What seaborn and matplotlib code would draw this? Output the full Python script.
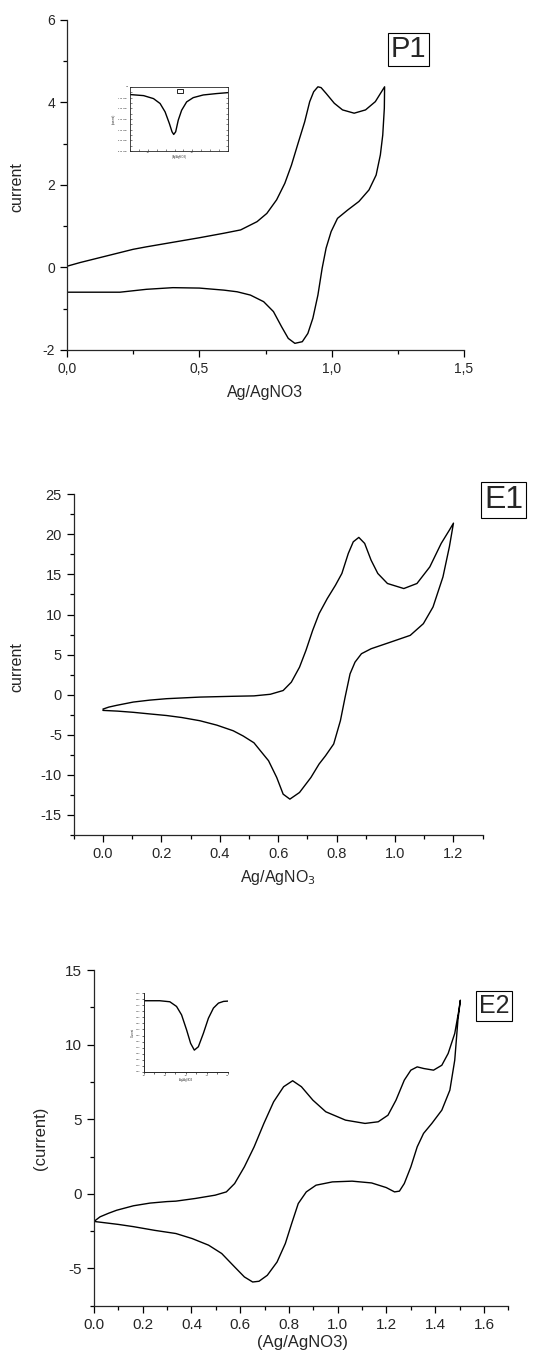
import pandas as pd
import matplotlib
matplotlib.use('Agg')
import matplotlib.pyplot as plt
from matplotlib import font_manager
from matplotlib.patches import Rectangle
import seaborn as sns

# ---- P1: cyclic voltammogram (forward / reverse scan) ----
p1_fwd_x = [0.0, 0.05, 0.10, 0.15, 0.20, 0.25, 0.30, 0.40, 0.50, 0.593, 0.656, 0.718,
            0.755, 0.792, 0.823, 0.848, 0.873, 0.898, 0.917, 0.932, 0.948, 0.960,
            0.979, 1.010, 1.041, 1.085, 1.128, 1.165, 1.2]
p1_fwd_y = [0.03, 0.12, 0.20, 0.28, 0.36, 0.44, 0.50, 0.61, 0.72, 0.83, 0.91, 1.11,
            1.31, 1.64, 2.04, 2.48, 3.01, 3.53, 4.02, 4.26, 4.38, 4.36,
            4.22, 3.98, 3.82, 3.74, 3.82, 4.02, 4.38]
p1_rev_x = [1.2, 1.199, 1.193, 1.184, 1.168, 1.141, 1.103, 1.060, 1.022, 0.998, 0.979,
            0.964, 0.948, 0.929, 0.910, 0.889, 0.861, 0.836, 0.811, 0.780, 0.743,
            0.693, 0.643, 0.593, 0.50, 0.40, 0.30, 0.20, 0.125, 0.0]
p1_rev_y = [4.38, 3.86, 3.21, 2.73, 2.24, 1.88, 1.60, 1.39, 1.19, 0.87, 0.47,
            -0.02, -0.67, -1.23, -1.60, -1.80, -1.84, -1.72, -1.44, -1.07, -0.83,
            -0.67, -0.59, -0.55, -0.50, -0.49, -0.53, -0.60, -0.60, -0.60]
p1_xticks = [0.0, 0.5, 1.0, 1.5]
p1_xticklabels = ['0,0', '0,5', '1,0', '1,5']
p1_yticks = [-2, 0, 2, 4, 6]

# inset of P1
p1_in_x = [-1.2, -1.047, -0.936, -0.862, -0.806, -0.758, -0.728, -0.709, -0.687,
           -0.658, -0.620, -0.564, -0.490, -0.378, -0.230, -0.1]
p1_in_y = [-0.71, -0.81, -1.09, -1.55, -2.33, -3.42, -4.20, -4.45, -4.20,
           -3.11, -2.18, -1.40, -1.00, -0.75, -0.62, -0.53]
p1_in_xticks = [-1.0, -0.5]
p1_in_yticks = [0, -1, -2, -3, -4, -5, -6]
p1_in_yticklabels = ['0.0', '-1.0x10$^{-7}$', '-2.0x10$^{-7}$', '-3.0x10$^{-7}$',
                     '-4.0x10$^{-7}$', '-5.0x10$^{-7}$', '-6.0x10$^{-7}$']

# ---- E1 ----
e1_fwd_x = [0.0, 0.02, 0.047, 0.104, 0.16, 0.218, 0.332, 0.446, 0.517, 0.573, 0.617,
            0.645, 0.673, 0.695, 0.718, 0.740, 0.768, 0.796, 0.818, 0.840, 0.857,
            0.876, 0.896, 0.918, 0.941, 0.974, 1.030, 1.075, 1.119, 1.158, 1.186, 1.2]
e1_fwd_y = [-1.8, -1.55, -1.33, -0.92, -0.68, -0.5, -0.3, -0.2, -0.15, 0.05, 0.52,
            1.56, 3.43, 5.52, 8.02, 10.11, 11.99, 13.65, 15.12, 17.62, 19.07,
            19.62, 18.87, 16.78, 15.12, 13.87, 13.24, 13.87, 15.94, 18.87, 20.53, 21.4]
e1_rev_x = [1.2, 1.186, 1.164, 1.130, 1.097, 1.052, 0.985, 0.918, 0.885, 0.863, 0.846,
            0.829, 0.813, 0.790, 0.762, 0.740, 0.712, 0.673, 0.640, 0.617, 0.595,
            0.567, 0.539, 0.517, 0.48, 0.446, 0.39, 0.332, 0.27, 0.218, 0.16, 0.104,
            0.05, 0.0]
e1_rev_y = [21.4, 18.45, 14.69, 10.94, 8.86, 7.40, 6.56, 5.73, 5.11, 4.06, 2.6,
            -0.32, -3.24, -6.15, -7.62, -8.65, -10.33, -12.2, -13.03, -12.41, -10.33,
            -8.24, -6.99, -6.0, -5.15, -4.5, -3.8, -3.25, -2.85, -2.6, -2.4, -2.2,
            -2.05, -1.96]
e1_xticks = [0.0, 0.2, 0.4, 0.6, 0.8, 1.0, 1.2]
e1_yticks = [-15, -10, -5, 0, 5, 10, 15, 20, 25]

# ---- E2 ----
e2_fwd_x = [0.0, 0.025, 0.06, 0.093, 0.162, 0.23, 0.299, 0.336, 0.416, 0.497, 0.543,
            0.577, 0.617, 0.657, 0.697, 0.737, 0.778, 0.815, 0.851, 0.898, 0.951,
            1.032, 1.112, 1.166, 1.206, 1.239, 1.273, 1.300, 1.326, 1.353, 1.393,
            1.427, 1.453, 1.480, 1.497, 1.503]
e2_fwd_y = [-1.85, -1.54, -1.3, -1.1, -0.8, -0.62, -0.52, -0.49, -0.31, -0.09, 0.13,
            0.69, 1.81, 3.15, 4.72, 6.17, 7.18, 7.58, 7.18, 6.28, 5.5,
            4.94, 4.72, 4.83, 5.27, 6.28, 7.62, 8.29, 8.51, 8.40, 8.29,
            8.62, 9.41, 10.75, 12.31, 12.98]
e2_rev_x = [1.503, 1.493, 1.480, 1.460, 1.427, 1.386, 1.352, 1.326, 1.300, 1.273, 1.253,
            1.233, 1.199, 1.139, 1.059, 0.978, 0.911, 0.871, 0.838, 0.811, 0.785,
            0.751, 0.711, 0.677, 0.651, 0.617, 0.577, 0.524, 0.470, 0.403, 0.336,
            0.25, 0.162, 0.1, 0.05, 0.0]
e2_rev_y = [12.98, 11.64, 8.96, 6.95, 5.61, 4.72, 4.05, 3.15, 1.81, 0.69, 0.18,
            0.13, 0.42, 0.73, 0.85, 0.80, 0.58, 0.13, -0.65, -1.99, -3.33,
            -4.57, -5.46, -5.86, -5.91, -5.57, -4.90, -4.00, -3.44, -3.00, -2.66,
            -2.45, -2.2, -2.05, -1.95, -1.85]
e2_xticks = [0.0, 0.2, 0.4, 0.6, 0.8, 1.0, 1.2, 1.4, 1.6]
e2_yticks = [-5, 0, 5, 10, 15]

# inset of E2
e2_in_x = [-1.0, -0.812, -0.692, -0.612, -0.552, -0.492, -0.444, -0.4, -0.352,
           -0.292, -0.232, -0.172, -0.112, -0.052, 0.0]
e2_in_y = [1.173, 1.173, 1.156, 1.079, 0.94, 0.692, 0.471, 0.36, 0.415,
           0.636, 0.885, 1.052, 1.134, 1.162, 1.167]
e2_in_xticks = [-1.0, -0.75, -0.5, -0.25, 0.0]
e2_in_yticks = [0.0, 0.1, 0.2, 0.3, 0.4, 0.5, 0.6, 0.7, 0.8, 0.9, 1.0, 1.1, 1.2, 1.3]

sns.set_style('ticks')
names = {f.name for f in font_manager.fontManager.ttflist}
narrow = 'Liberation Sans Narrow' if 'Liberation Sans Narrow' in names else 'Liberation Sans'
plt.rcParams['font.family'] = ['Liberation Sans', 'DejaVu Sans']
plt.rcParams['axes.unicode_minus'] = False
plt.rcParams['axes.linewidth'] = 0.9
for k in ['xtick.major.width', 'ytick.major.width', 'xtick.minor.width', 'ytick.minor.width']:
    plt.rcParams[k] = 0.9


def cv_frame(fx, fy, rx, ry):
    return pd.DataFrame({'E': list(fx) + list(rx), 'I': list(fy) + list(ry)})


def style_axes(ax, fs):
    sns.despine(ax=ax)
    ax.tick_params(which='major', direction='out', length=5, labelsize=fs, color='black')
    ax.tick_params(which='minor', direction='out', length=3, color='black')
    ax.set_xlabel('')
    ax.set_ylabel('')


fig = plt.figure(figsize=(5.34, 13.59), dpi=100)

# ---------- P1 ----------
ax1 = fig.add_axes([0.1255, 0.7425, 0.7434, 0.2428])
sns.lineplot(data=cv_frame(p1_fwd_x, p1_fwd_y, p1_rev_x, p1_rev_y), x='E', y='I',
             sort=False, estimator=None, color='black', lw=1.0, ax=ax1)
style_axes(ax1, 10)
ax1.set_xlim(0, 1.5)
ax1.set_ylim(-2, 6)
ax1.set_xticks(p1_xticks, p1_xticklabels)
ax1.set_yticks(p1_yticks)
ax1.xaxis.set_minor_locator(plt.MultipleLocator(0.25))
ax1.yaxis.set_minor_locator(plt.MultipleLocator(1))
ax1.set_xlabel('Ag/AgNO3', fontsize=11.5)
ax1.set_ylabel('current', fontsize=11.5)
ax1.xaxis.set_label_coords(0.499, -0.106)
ax1.yaxis.set_label_coords(-0.108, 0.494)

in1 = fig.add_axes([0.2434, 0.8889, 0.1835, 0.0471])
sns.lineplot(x=p1_in_x, y=p1_in_y, sort=False, estimator=None, color='black', lw=1.0, ax=in1)
in1.set_xlim(-1.2, -0.1)
in1.set_ylim(-6, 0)
in1.set_xticks(p1_in_xticks, ['-1.0', '-0.5'])
in1.set_yticks(p1_in_yticks, p1_in_yticklabels)
in1.xaxis.set_minor_locator(plt.MultipleLocator(0.1))
in1.yaxis.set_minor_locator(plt.MultipleLocator(0.5))
in1.tick_params(which='both', direction='in', length=1.5, width=0.4, labelsize=1.6,
                pad=1, right=True)
for s in in1.spines.values():
    s.set_linewidth(0.6)
in1.set_xlabel('(Ag/AgNO3)', fontsize=2, labelpad=1)
in1.set_ylabel('(current)', fontsize=2, labelpad=1)
in1.add_patch(Rectangle((0.483, 0.912), 0.061, 0.062, transform=in1.transAxes,
                        fill=False, ec='black', lw=0.6))

fig.text(0.765, 0.9636, 'P1', family=[narrow, 'DejaVu Sans'], fontsize=21,
         ha='center', va='center',
         bbox=dict(boxstyle='square,pad=0.08', fc='white', ec='black', lw=0.8))

# ---------- E1 ----------
ax2 = fig.add_axes([0.138, 0.3856, 0.7659, 0.2507])
sns.lineplot(data=cv_frame(e1_fwd_x, e1_fwd_y, e1_rev_x, e1_rev_y), x='E', y='I',
             sort=False, estimator=None, color='black', lw=1.0, ax=ax2)
style_axes(ax2, 10.5)
ax2.set_xlim(-0.1, 1.3)
ax2.set_ylim(-17.5, 25)
ax2.set_xticks(e1_xticks)
ax2.set_yticks(e1_yticks)
ax2.xaxis.set_major_formatter(plt.FormatStrFormatter('%.1f'))
ax2.xaxis.set_minor_locator(plt.MultipleLocator(0.1))
ax2.yaxis.set_minor_locator(plt.MultipleLocator(2.5))
ax2.set_xlabel('Ag/AgNO$_3$', fontsize=11.5)
ax2.set_ylabel('current', fontsize=11.5)
ax2.xaxis.set_label_coords(0.4995, -0.097)
ax2.yaxis.set_label_coords(-0.1215, 0.493)

fig.text(0.943, 0.6321, 'E1', family=[narrow, 'DejaVu Sans'], fontsize=23,
         ha='center', va='center',
         bbox=dict(boxstyle='square,pad=0.08', fc='white', ec='black', lw=0.8))

# ---------- E2 ----------
ax3 = fig.add_axes([0.176, 0.0392, 0.776, 0.2470])
sns.lineplot(data=cv_frame(e2_fwd_x, e2_fwd_y, e2_rev_x, e2_rev_y), x='E', y='I',
             sort=False, estimator=None, color='black', lw=1.0, ax=ax3)
style_axes(ax3, 11)
ax3.set_xlim(0, 1.7)
ax3.set_ylim(-7.5, 15)
ax3.set_xticks(e2_xticks)
ax3.set_yticks(e2_yticks)
ax3.xaxis.set_major_formatter(plt.FormatStrFormatter('%.1f'))
ax3.xaxis.set_minor_locator(plt.MultipleLocator(0.1))
ax3.yaxis.set_minor_locator(plt.MultipleLocator(2.5))
ax3.set_xlabel('(Ag/AgNO3)', fontsize=12)
ax3.set_ylabel('(current)', fontsize=12)
ax3.xaxis.set_label_coords(0.502, -0.087)
ax3.yaxis.set_label_coords(-0.111, 0.4996)

in3 = fig.add_axes([0.2697, 0.2112, 0.157, 0.0581])
sns.lineplot(x=e2_in_x, y=e2_in_y, sort=False, estimator=None, color='black', lw=1.0, ax=in3)
sns.despine(ax=in3)
in3.set_xlim(-1.0, 0.0)
in3.set_ylim(0.0, 1.3)
in3.set_xticks(e2_in_xticks, ['-1.0', '-0.8', '-0.5', '-0.3', '0.0'])
in3.set_yticks(e2_in_yticks, ['%.2f' % v for v in e2_in_yticks])
in3.xaxis.set_minor_locator(plt.MultipleLocator(0.125))
in3.tick_params(which='both', direction='out', length=1.5, width=0.5, labelsize=1.6, pad=1)
for s in in3.spines.values():
    s.set_linewidth(0.7)
in3.set_xlabel('Ag/AgNO3', fontsize=2, labelpad=1)
in3.set_ylabel('Current', fontsize=2, labelpad=1)

fig.text(0.925, 0.2594, 'E2', fontsize=18, ha='center', va='center',
         bbox=dict(boxstyle='square,pad=0.12', fc='white', ec='black', lw=0.8))

fig.savefig('out.png', dpi=100, facecolor='white')
